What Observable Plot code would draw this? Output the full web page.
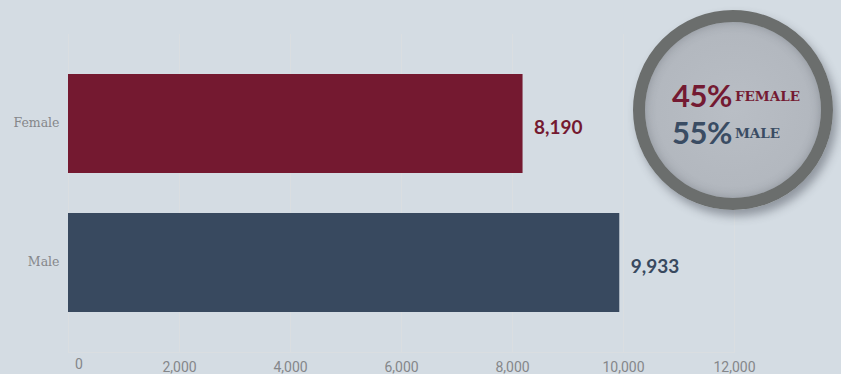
<!DOCTYPE html>
<html>
<head>
<meta charset="utf-8">
<script src="https://cdn.jsdelivr.net/npm/d3@7"></script>
<script src="https://cdn.jsdelivr.net/npm/@observablehq/plot@0.6"></script>
<style>
  html, body { margin: 0; padding: 0; background: #d4dce3; }
  #wrap { position: relative; width: 841px; height: 374px; overflow: hidden; background: #d4dce3; }
  #badge {
    position: absolute; left: 633px; top: 10px; width: 176px; height: 176px;
    border-radius: 50%; border: 12px solid #6b6e6d;
    background: radial-gradient(circle at 50% 50%, #b9bec5 0%, #b3b8bf 60%, #a9aeb5 100%);
    box-shadow: 4px 6px 10px rgba(60,65,75,0.45), inset 0 0 10px rgba(80,85,95,0.35);
  }
  .row { position: absolute; left: 27px; white-space: nowrap; }
  .pct { font-family: Lato, "Open Sans", sans-serif; font-weight: 700; font-size: 31px; letter-spacing: -0.5px; }
  .lab { font-family: "DejaVu Serif", serif; font-weight: 700; font-size: 13.5px; margin-left: 3px; position: relative; top: -6px; }
</style>
</head>
<body>
<div id="wrap">
  <div id="chart"></div>
  <div id="badge">
    <div class="row" style="top:54px;color:#741a32"><span class="pct" id="pf"></span><span class="lab" id="lf"></span></div>
    <div class="row" style="top:91px;color:#3a4c63"><span class="pct" id="pm"></span><span class="lab" id="lm"></span></div>
  </div>
</div>
<script>
const categories = ["Female", "Male"];
const values = [8190, 9933];
const colors = ["#741930", "#38495f"];
const xTicks = [0, 2000, 4000, 6000, 8000, 10000, 12000];
const shareLabels = ["FEMALE", "MALE"];

const data = categories.map((c, i) => ({category: c, value: values[i], color: colors[i]}));
const total = d3.sum(values);
const fmt = d3.format(",");

const plot = Plot.plot({
  width: 841,
  height: 374,
  marginLeft: 68,
  marginRight: 107,
  marginTop: 34,
  marginBottom: 22,
  style: {background: "transparent", overflow: "visible"},
  x: {domain: [0, 12000], axis: null, label: null},
  y: {domain: categories, padding: 0.285, axis: null, label: null},
  marks: [
    Plot.gridX(xTicks, {stroke: "#dadee1", strokeOpacity: 1, strokeWidth: 1}),
    Plot.frame({anchor: "bottom", stroke: "#dadee1"}),
    Plot.barX(data, {x: "value", y: "category", fill: "color"}),
    Plot.text(data, {x: "value", y: "category", text: d => fmt(d.value), fill: "color", textAnchor: "start", dx: 11, dy: 4, fontSize: 19, fontWeight: "bold", fontFamily: "Lato, sans-serif"}),
    Plot.axisY({label: null, tickSize: 0, tickPadding: 9, dy: -1, fontSize: 12.5, fontFamily: "DejaVu Serif, serif", color: "#85878a"}),
    Plot.axisX(xTicks.filter(t => t > 0), {label: null, tickSize: 0, tickPadding: 10, fontSize: 14, fontFamily: "Liberation Sans Narrow, Roboto, sans-serif", color: "#85878a", tickFormat: d => fmt(d)}),
    Plot.text([0], {x: d => d, frameAnchor: "bottom", dy: 16, textAnchor: "start", dx: 6.5, text: d => String(d), fontSize: 14, fontFamily: "Liberation Sans Narrow, Roboto, sans-serif", fill: "#85878a"})
  ]
});
document.getElementById("chart").appendChild(plot);

document.getElementById("pf").textContent = Math.round(values[0] / total * 100) + "%";
document.getElementById("pm").textContent = Math.round(values[1] / total * 100) + "%";
document.getElementById("lf").textContent = shareLabels[0];
document.getElementById("lm").textContent = shareLabels[1];
</script>
</body>
</html>
